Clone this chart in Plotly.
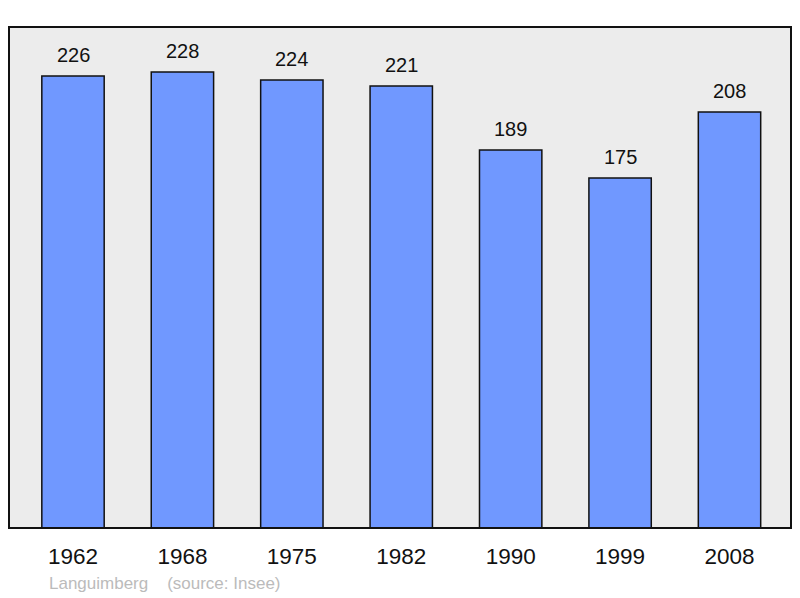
import plotly.graph_objects as go

years = ["1962", "1968", "1975", "1982", "1990", "1999", "2008"]
population = [226, 228, 224, 221, 189, 175, 208]

fig = go.Figure()
fig.add_trace(go.Bar(
    x=years, y=population, width=0.57,
    marker=dict(color="#7098ff", line=dict(color="#111111", width=1.5)),
    hoverinfo="skip",
))

for i, v in enumerate(population):
    fig.add_annotation(x=i, y=v, text=str(v), showarrow=False,
                       yanchor="bottom", yshift=8,
                       font=dict(family="Liberation Sans, Arial", size=20, color="#111111"))

fig.add_annotation(xref="paper", yref="paper", x=0.048, y=-0.11, xanchor="left", yanchor="middle",
                   text="Languimberg &nbsp;&nbsp;&nbsp;(source: Insee)", showarrow=False,
                   font=dict(family="Liberation Sans, Arial", size=17, color="#bbbbbb"))

fig.add_shape(type="rect", xref="paper", yref="paper", x0=0, x1=1, y0=0, y1=1,
              line=dict(color="#111111", width=2), layer="above")

fig.update_layout(
    width=792, height=590,
    margin=dict(l=1, r=9, t=19, b=70),
    paper_bgcolor="white", plot_bgcolor="#ececec",
    showlegend=False,
    xaxis=dict(type="category", range=[-0.585, 6.562], showgrid=False, zeroline=False,
               ticks="outside", ticklen=8, tickcolor="rgba(0,0,0,0)",
               tickfont=dict(family="Liberation Sans, Arial", size=22.5, color="#111111")),
    yaxis=dict(range=[0, 250.5], showgrid=False, zeroline=False, showticklabels=False),
)

fig.write_html("out.html")
